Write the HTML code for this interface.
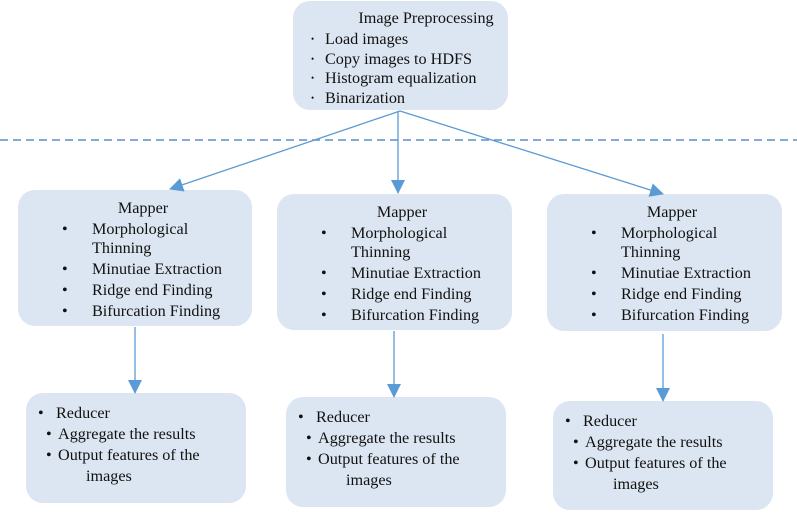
<!DOCTYPE html>
<html><head><style>body{margin:0;background:#fff}</style></head><body>
<svg width="797" height="512" xmlns="http://www.w3.org/2000/svg" font-family="Liberation Serif, serif" font-size="16.2" fill="#111">
<defs>
<marker id="b" markerWidth="14" markerHeight="14" refX="13" refY="7" orient="auto" markerUnits="userSpaceOnUse"><path d="M0,0 L14,7 L0,14 z" fill="#5b9bd5"/></marker></defs>
<g fill="#dce6f2">
<rect x="293" y="1" width="215" height="109" rx="17"/>
<rect x="18" y="190" width="234" height="136" rx="17"/>
<rect x="277" y="194" width="235" height="136" rx="17"/>
<rect x="547" y="194" width="235" height="137" rx="17"/>
<rect x="26" y="393" width="220" height="110" rx="17"/>
<rect x="286" y="397" width="220" height="110" rx="17"/>
<rect x="553" y="401" width="220" height="109" rx="17"/>
</g>
<line x1="0" y1="140" x2="797" y2="140" stroke="#5b8fc7" stroke-width="1.5" stroke-dasharray="8,5"/>
<g stroke="#5b9bd5" stroke-width="1.3">
<line x1="400" y1="111" x2="170" y2="189" marker-end="url(#b)"/>
<line x1="398" y1="111" x2="398" y2="193" marker-end="url(#b)"/>
<line x1="400" y1="111" x2="663" y2="194" marker-end="url(#b)"/>
<line x1="135" y1="327" x2="135" y2="393" marker-end="url(#b)"/>
<line x1="394" y1="331" x2="394" y2="397" marker-end="url(#b)"/>
<line x1="663" y1="334" x2="663" y2="401" marker-end="url(#b)"/>
</g>
<text x="426" y="23" text-anchor="middle">Image Preprocessing</text>
<g font-size="9"><text x="311" y="42">•</text><text x="311" y="62">•</text><text x="311" y="81">•</text><text x="311" y="101">•</text></g>
<text x="325" y="44">Load images</text>
<text x="325" y="64">Copy images to HDFS</text>
<text x="325" y="83">Histogram equalization</text>
<text x="325" y="103">Binarization</text>
<g id="m1">
<text x="143" y="213" text-anchor="middle">Mapper</text>
<text x="62" y="234">•</text><text x="92" y="234">Morphological</text>
<text x="92" y="253">Thinning</text>
<text x="62" y="274">•</text><text x="92" y="274">Minutiae Extraction</text>
<text x="62" y="295">•</text><text x="92" y="295">Ridge end Finding</text>
<text x="62" y="316">•</text><text x="92" y="316">Bifurcation Finding</text>
</g>
<use href="#m1" x="259" y="4"/>
<use href="#m1" x="529" y="4"/>
<g id="r1">
<text x="38" y="418">•</text><text x="56" y="418">Reducer</text>
<text x="46" y="439">•</text><text x="58" y="439">Aggregate the results</text>
<text x="46" y="460">•</text><text x="58" y="460">Output features of the</text>
<text x="86" y="481">images</text>
</g>
<use href="#r1" x="260" y="4"/>
<use href="#r1" x="527" y="8"/>
</svg>
</body></html>
